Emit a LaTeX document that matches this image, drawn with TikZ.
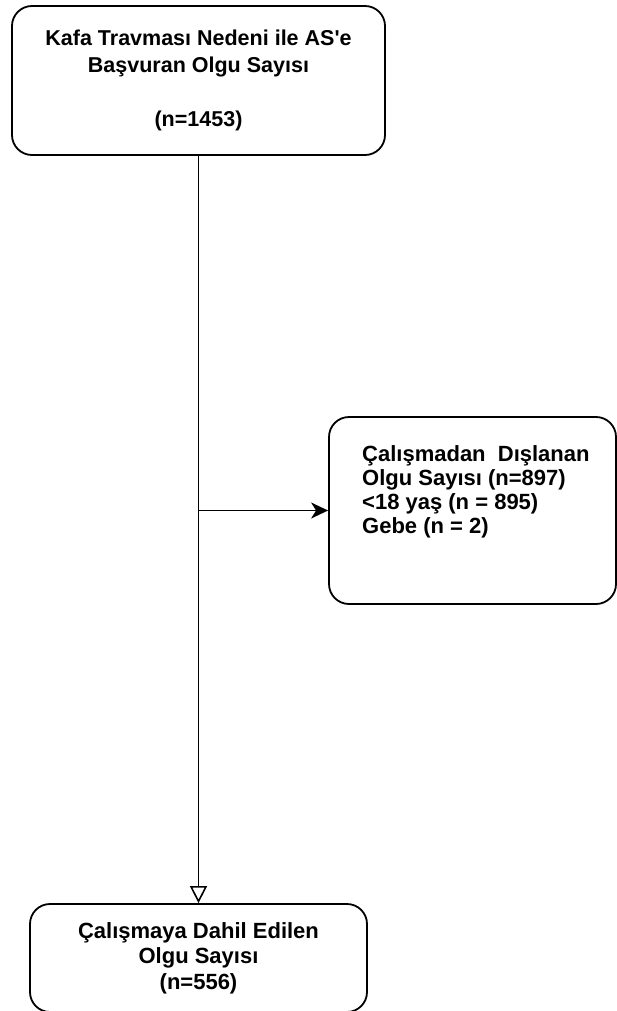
\documentclass[tikz,border=0pt]{standalone}
\usepackage{fontspec}
\setmainfont{Liberation Sans}[Ligatures=TeXOff]
\usetikzlibrary{arrows.meta}
\begin{document}
\begin{tikzpicture}[x=1pt,y=-1pt,
  box/.style={draw, line width=1.8pt, rounded corners=20pt, inner sep=0pt, align=center},
  txt/.style={font=\fontsize{22}{27}\selectfont\bfseries},
  conn/.style={line width=1.6pt}]
\useasboundingbox (0,0) rectangle (617,1011);
\node[box, font=\fontsize{21.5}{27}\selectfont\bfseries, minimum width=373pt, minimum height=149pt] (top) at (198.5,80.5)
  {Kafa Travması Nedeni ile AS'e\\Başvuran Olgu Sayısı\\[27pt](n=1453)};
\node[box, minimum width=287pt, minimum height=187pt] (excl) at (472.5,510.5) {};
\node[font=\fontsize{22}{24}\selectfont\bfseries, align=left, anchor=north west, inner sep=0pt] (extxt) at (362,445)
  {Çalışmadan\ \ Dışlanan\\Olgu Sayısı (n=897)\\<18 yaş (n = 895)\\Gebe (n = 2)};
\node[box, minimum width=337pt, minimum height=108pt, font=\fontsize{22}{25.5}\selectfont\bfseries] (incl) at (198.5,958)
  {Çalışmaya Dahil Edilen\\Olgu Sayısı\\(n=556)};
\draw[conn, -{Triangle[open, length=17pt, width=17pt]}] (top.south) -- (incl.north);
\coordinate (split) at (top.south |- excl.west);
\draw[conn, -{Stealth[length=17pt, width=16pt, inset=5pt]}] (split) -- (excl.west);
\end{tikzpicture}
\end{document}
